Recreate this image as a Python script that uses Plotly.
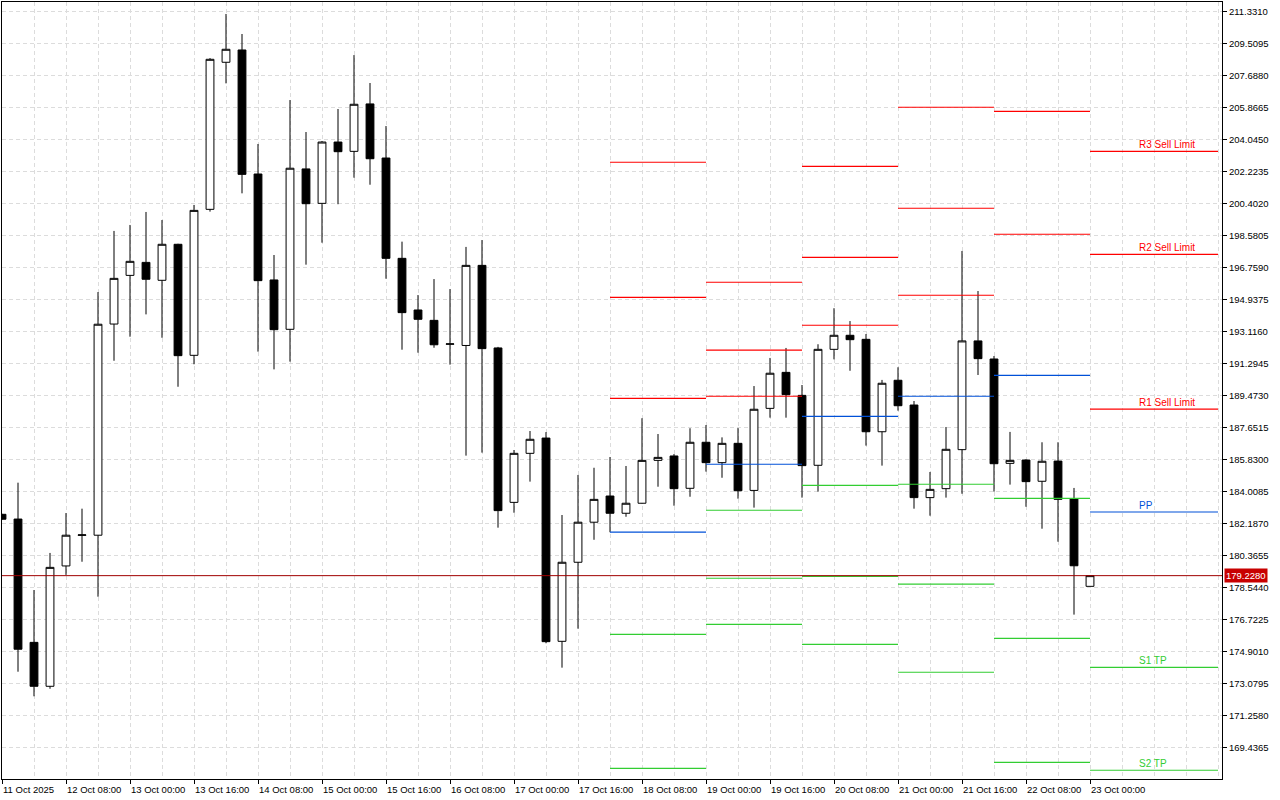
import plotly.graph_objects as go
import pandas as pd

# H4 candles, 11 Oct 2025 16:00 -> 23 Oct 2025 00:00
times = pd.date_range("2025-10-11 16:00", periods=69, freq="4h")

opens = [182.72, 182.45, 175.43, 172.93, 179.78, 181.52, 181.53, 193.55, 196.32, 197.06,
         196.04, 198.09, 191.77, 200.08, 208.45, 209.15, 202.09, 196.06, 193.25, 202.38,
         200.42, 203.91, 203.38, 206.08, 203.00, 197.29, 194.35, 193.76, 192.40, 192.33,
         196.89, 192.19, 183.40, 186.19, 187.06, 175.49, 179.99, 182.27, 183.76, 182.78,
         183.35, 185.79, 186.04, 184.20, 186.82, 185.66, 186.76, 184.08, 188.75, 190.80,
         189.49, 185.51, 192.11, 192.91, 192.68, 187.42, 190.35, 188.94, 183.67, 184.18,
         186.40, 192.59, 191.56, 185.62, 185.81, 184.60, 185.75, 183.59, 178.62]
highs = [182.75, 184.52, 178.41, 180.52, 182.79, 183.04, 195.37, 198.85, 199.19, 199.93,
         199.47, 198.12, 200.33, 208.69, 211.20, 210.06, 203.80, 197.48, 206.30, 204.48,
         203.97, 205.79, 208.86, 207.27, 204.82, 198.24, 195.20, 196.11, 195.54, 197.94,
         198.33, 192.25, 186.38, 187.46, 187.40, 182.68, 184.96, 185.37, 185.98, 185.47,
         188.19, 187.29, 186.15, 187.62, 187.80, 187.10, 187.63, 190.02, 191.62, 192.19,
         190.08, 192.40, 194.45, 193.72, 192.98, 190.37, 191.09, 189.17, 185.13, 187.69,
         197.71, 195.43, 191.73, 187.41, 185.85, 186.82, 186.82, 184.22, 179.228]
lows = [182.40, 173.76, 172.36, 172.79, 179.27, 180.02, 178.03, 191.46, 192.83, 194.10,
        192.77, 189.98, 191.26, 199.95, 207.25, 200.99, 191.98, 190.97, 191.41, 196.93,
        198.18, 200.37, 201.88, 201.48, 196.13, 192.09, 191.92, 192.20, 191.24, 186.06,
        186.23, 181.96, 182.81, 184.58, 175.38, 173.99, 176.21, 181.27, 181.70, 182.58,
        183.33, 184.29, 183.21, 183.72, 185.15, 184.80, 183.61, 183.10, 188.22, 188.22,
        183.67, 184.01, 191.54, 190.89, 186.63, 185.49, 188.62, 183.04, 182.64, 183.67,
        183.89, 190.65, 184.01, 184.41, 183.15, 181.90, 181.16, 177.01, 178.62]
closes = [182.44, 175.04, 172.93, 179.70, 181.53, 181.55, 193.54, 196.15, 197.12, 196.10,
          198.09, 191.75, 200.02, 208.62, 209.19, 202.07, 196.02, 193.23, 202.42, 200.40,
          203.91, 203.36, 206.06, 202.96, 197.29, 194.20, 193.82, 192.37, 192.42, 196.89,
          192.15, 182.93, 186.19, 186.99, 175.47, 179.99, 182.27, 183.57, 182.78, 183.35,
          185.79, 185.96, 184.18, 186.82, 185.66, 186.76, 184.06, 188.70, 190.75, 189.53,
          185.49, 192.11, 192.91, 192.66, 187.42, 190.18, 188.90, 183.67, 184.14, 186.42,
          192.59, 191.58, 185.60, 185.79, 184.58, 185.74, 183.57, 179.79, 179.228]

# daily pivot levels (None = outside the visible range)
level_day_start = pd.to_datetime(["2025-10-18 00:00", "2025-10-19 00:00", "2025-10-20 00:00",
                                  "2025-10-21 00:00", "2025-10-22 00:00", "2025-10-23 00:00"])
level_day_end = pd.to_datetime(["2025-10-19 00:00", "2025-10-20 00:00", "2025-10-21 00:00",
                                "2025-10-22 00:00", "2025-10-23 00:00", "2025-10-24 08:00"])
R3 = [202.76, 195.93, 202.53, 205.89, None, 203.38]
R2 = [195.07, 192.06, 197.35, 200.14, 205.66, 197.52]
R1 = [189.32, 189.44, 193.48, 195.19, 198.66, 188.71]
PP = [181.70, 185.57, 188.30, 189.44, 190.63, 182.85]
S1 = [175.89, 182.95, 184.37, 184.43, 183.63, 174.01]
S2 = [168.26, 179.08, 179.19, 178.74, 175.66, 168.15]
S3 = [None, 176.46, 175.32, 173.73, 168.60, None]

level_names = ["R3 Sell Limit", "R2 Sell Limit", "R1 Sell Limit", "PP", "S1 TP", "S2 TP"]

y_ticks = [211.3310, 209.5095, 207.6880, 205.8665, 204.0450, 202.2235, 200.4020, 198.5805,
           196.7590, 194.9375, 193.1160, 191.2945, 189.4730, 187.6515, 185.8300, 184.0085,
           182.1870, 180.3655, 178.5440, 176.7225, 174.9010, 173.0795, 171.2580, 169.4365]

x_tick_times = pd.to_datetime(["2025-10-11 16:00", "2025-10-12 08:00", "2025-10-13 00:00",
                               "2025-10-13 16:00", "2025-10-14 08:00", "2025-10-15 00:00",
                               "2025-10-15 16:00", "2025-10-16 08:00", "2025-10-17 00:00",
                               "2025-10-17 16:00", "2025-10-18 08:00", "2025-10-19 00:00",
                               "2025-10-19 16:00", "2025-10-20 08:00", "2025-10-21 00:00",
                               "2025-10-21 16:00", "2025-10-22 08:00", "2025-10-23 00:00"])
x_tick_labels = ["11 Oct 2025", "12 Oct 08:00", "13 Oct 00:00", "13 Oct 16:00", "14 Oct 08:00",
                 "15 Oct 00:00", "15 Oct 16:00", "16 Oct 08:00", "17 Oct 00:00", "17 Oct 16:00",
                 "18 Oct 08:00", "19 Oct 00:00", "19 Oct 16:00", "20 Oct 08:00", "21 Oct 00:00",
                 "21 Oct 16:00", "22 Oct 08:00", "23 Oct 00:00"]

RED = "#ff0000"
BLUE = "#0050d8"
GREEN = "#32cd32"
GRID = "#dcdcdc"
FONT = "Liberation Sans"

fig = go.Figure()

fig.add_trace(go.Candlestick(
    x=times, open=opens, high=highs, low=lows, close=closes,
    increasing=dict(line=dict(color="black", width=1), fillcolor="white"),
    decreasing=dict(line=dict(color="black", width=1), fillcolor="black"),
    whiskerwidth=0, showlegend=False, hoverinfo="skip"))


def level_trace(values, color):
    xs, ys = [], []
    for s, e, v in zip(level_day_start, level_day_end, values):
        if v is None:
            continue
        xs += [s, e, None]
        ys += [v, v, None]
    return go.Scatter(x=xs, y=ys, mode="lines", line=dict(color=color, width=1.2),
                      showlegend=False, hoverinfo="skip")


for vals in (R3, R2, R1):
    fig.add_trace(level_trace(vals, RED))
fig.add_trace(level_trace(PP, BLUE))
for vals in (S1, S2, S3):
    fig.add_trace(level_trace(vals, GREEN))

# current price line + label
last = closes[-1]
fig.add_shape(type="line", xref="paper", x0=0, x1=1, yref="y", y0=last, y1=last,
              line=dict(color="#a00000", width=1), layer="above")
fig.add_annotation(xref="paper", x=1, y=last, xanchor="left", yanchor="middle", xshift=2,
                   text=f"{last:.4f}", showarrow=False, bgcolor="#c80000",
                   font=dict(color="white", size=9.5, family=FONT), borderpad=1)

# labels of today's levels
label_x = pd.Timestamp("2025-10-23 12:00")
label_colors = [RED, RED, RED, BLUE, GREEN, GREEN]
for name, v, c in zip(level_names, [R3[-1], R2[-1], R1[-1], PP[-1], S1[-1], S2[-1]], label_colors):
    fig.add_annotation(x=label_x, y=v, xanchor="left", yanchor="bottom", text=name,
                       showarrow=False, font=dict(color=c, size=10, family=FONT),
                       borderpad=0, yshift=0)

# x labels, left aligned on the tick like the terminal does
for t, lab in zip(x_tick_times, x_tick_labels):
    fig.add_annotation(x=t, xref="x", y=0, yref="paper", xanchor="left", yanchor="top",
                       text=lab, showarrow=False, yshift=-3, xshift=-1,
                       font=dict(color="black", size=9.5, family=FONT))

major_set = set(x_tick_times)
minor_grid = [t for t in pd.date_range("2025-10-11 16:00", "2025-10-24 08:00", freq="8h")
              if t not in major_set]

fig.update_layout(
    width=1280, height=800,
    margin=dict(l=2, r=58, t=2, b=21),
    paper_bgcolor="white", plot_bgcolor="white",
    font=dict(family=FONT, size=9.5, color="black"),
    showlegend=False,
    xaxis=dict(type="date", range=[pd.Timestamp("2025-10-11 16:00"), pd.Timestamp("2025-10-24 09:00")],
               rangeslider=dict(visible=False), showline=True, mirror=True,
               linecolor="black", linewidth=1, zeroline=False,
               tickvals=list(x_tick_times), showticklabels=False,
               ticks="outside", ticklen=4, tickcolor="black",
               showgrid=True, gridcolor=GRID, griddash="4px,3px", gridwidth=1,
               minor=dict(tickvals=minor_grid, showgrid=True, gridcolor=GRID,
                          griddash="4px,3px", gridwidth=1, ticks="")),
    yaxis=dict(side="right", range=[167.653, 211.8814], showline=True, mirror=True,
               linecolor="black", linewidth=1, zeroline=False,
               tickvals=y_ticks, ticktext=[f"{v:.4f}" for v in y_ticks],
               ticks="outside", ticklen=4, tickcolor="black",
               tickfont=dict(size=9.5, family=FONT, color="black"),
               showgrid=True, gridcolor=GRID, griddash="4px,3px", gridwidth=1),
)

fig.write_html("out.html", config={"displayModeBar": False},
               post_script="document.body.style.margin='0';document.body.style.overflow='hidden';")
